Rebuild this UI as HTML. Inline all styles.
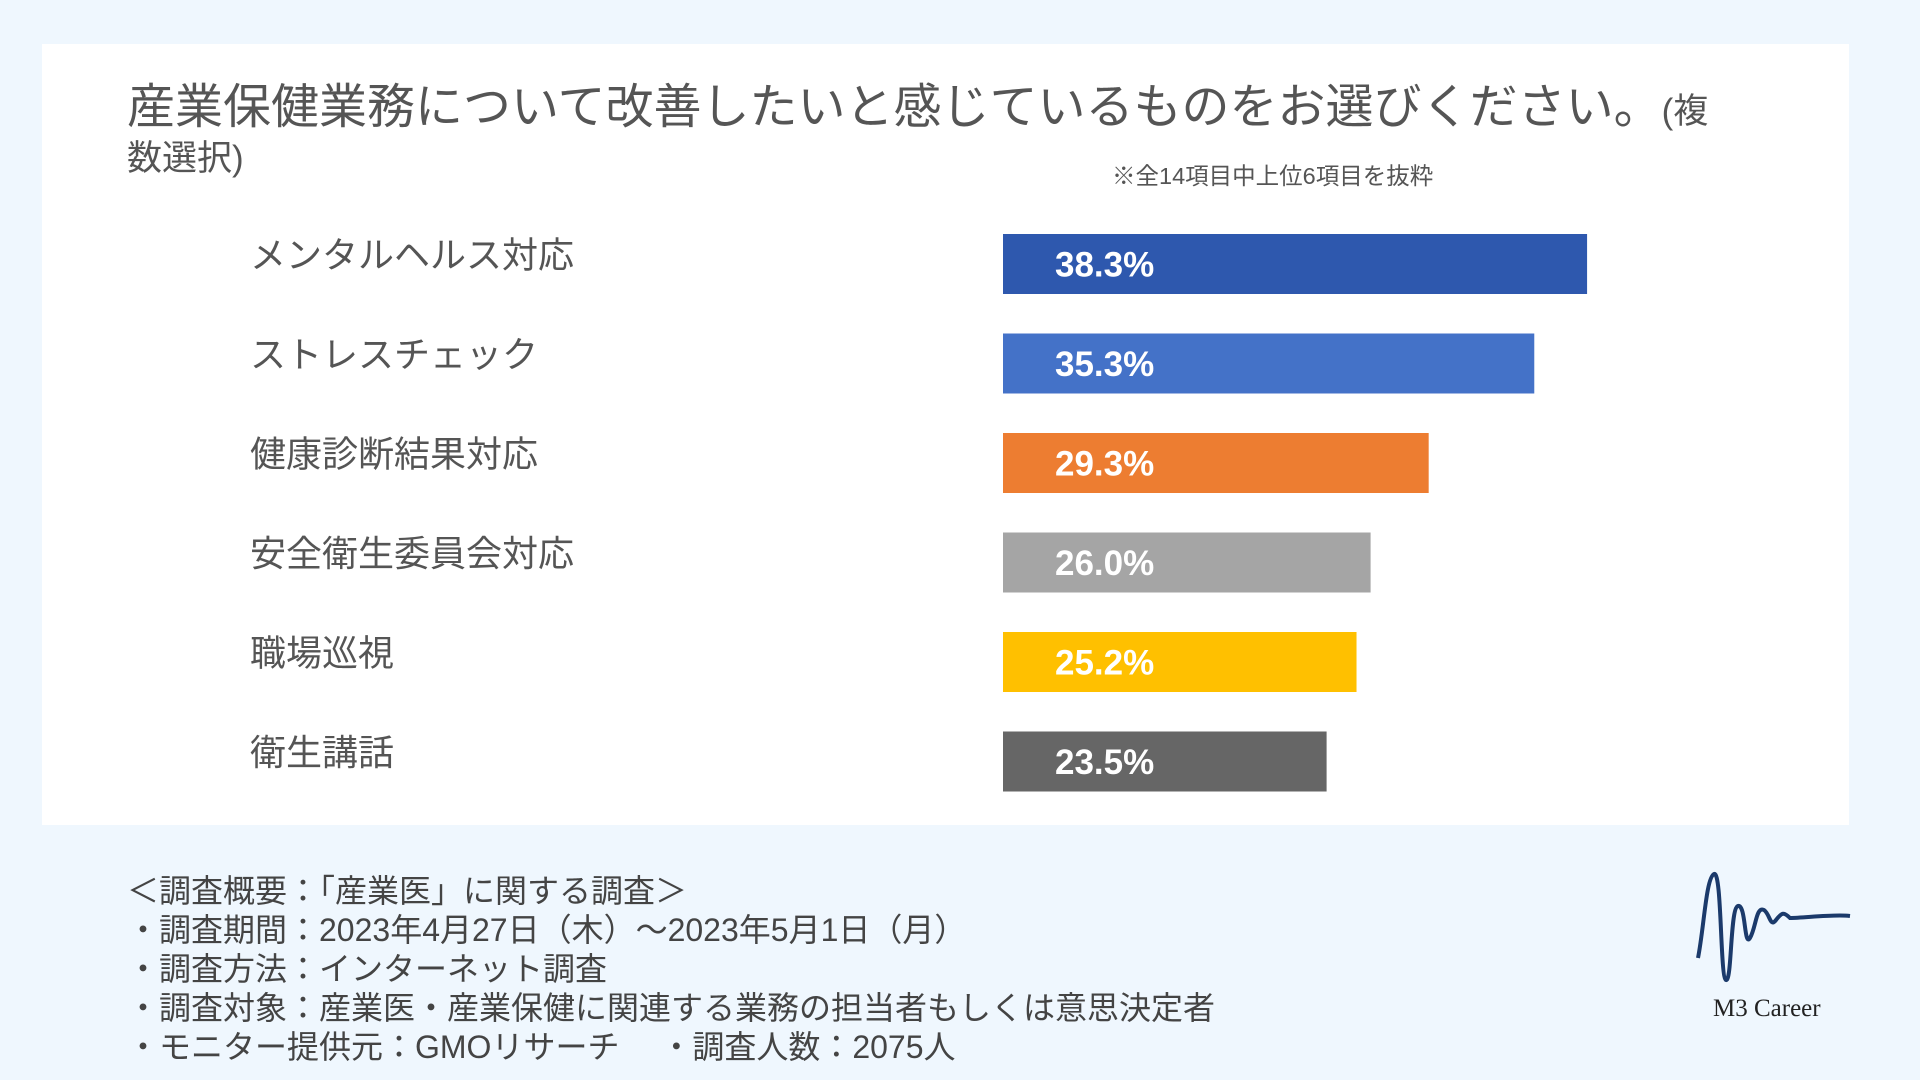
<!DOCTYPE html>
<html><head><meta charset="utf-8"><style>
body{margin:0;width:1920px;height:1080px;background:#eff7fe;position:relative;overflow:hidden;font-family:"Liberation Sans","Noto Sans CJK JP",sans-serif;color:#444}
.panel{position:absolute;left:42px;top:44px;width:1807px;height:781px;background:#fff}
.t{position:absolute;white-space:nowrap}
.foot div{position:absolute;left:127px;font-size:32px;color:#444;white-space:nowrap}
</style></head><body>
<div class="panel"></div>
<div class="t" style="left:127px;top:80px;font-size:48px;color:#555;line-height:56px">産業保健業務について改善したいと感じているものをお選びください。<span style="font-size:35px">(複</span></div>
<div class="t" style="left:127px;top:130px;font-size:35px;color:#555">数選択)</div>
<div class="t" style="left:1112px;top:157px;font-size:23.5px;color:#555">※全14項目中上位6項目を抜粋</div>
<svg id="chart" width="1920" height="1080" style="position:absolute;left:0;top:0"></svg>
<div class="foot">
<div style="top:866px">＜調査概要：「産業医」に関する調査＞</div>
<div style="top:905px">・調査期間：2023年4月27日（木）～2023年5月1日（月）</div>
<div style="top:944px">・調査方法：インターネット調査</div>
<div style="top:983px">・調査対象：産業医・産業保健に関連する業務の担当者もしくは意思決定者</div>
<div style="top:1022px">・モニター提供元：GMOリサーチ　 ・調査人数：2075人</div>
</div>
<svg width="160" height="130" style="position:absolute;left:1694px;top:868px">
<path d="M4 90 C10 60 12 10 20 6 C28 2 26 110 32 112 C38 114 36 40 44 38 C52 36 50 80 56 70 C62 60 62 38 70 42 C76 46 76 60 82 52 C88 44 90 44 96 50 C110 50 140 46 156 48" fill="none" stroke="#1b3a6b" stroke-width="4"/>
</svg>
<div class="t" style="left:1713px;top:995px;font-family:'Liberation Serif',serif;font-size:25px;color:#222">M3 Career</div>
<script>
const categories=["メンタルヘルス対応","ストレスチェック","健康診断結果対応","安全衛生委員会対応","職場巡視","衛生講話"];
const values=[38.3,35.3,29.3,26.0,25.2,23.5];
const valueLabels=["38.3%","35.3%","29.3%","26.0%","25.2%","23.5%"];
const colors=["#2e58ae","#4472c8","#ed7d31","#a5a5a5","#ffc000","#666666"];
const svg=document.getElementById('chart');
const NS='http://www.w3.org/2000/svg';
const x0=1003;
function xw(v){return Math.max(0,-90+17.6*v);}
function yc(i){return 264+i*99.5;}
categories.forEach((c,i)=>{
 const r=document.createElementNS(NS,'rect');
 r.setAttribute('x',x0);r.setAttribute('y',yc(i)-30);r.setAttribute('width',xw(values[i]));r.setAttribute('height',60);r.setAttribute('fill',colors[i]);
 
 
 svg.appendChild(r);
 const t=document.createElementNS(NS,'text');
 t.setAttribute('x',250);t.setAttribute('y',yc(i)-6);t.setAttribute('font-size','36');t.setAttribute('fill','#555');t.setAttribute('dominant-baseline','middle');
 t.textContent=c;
 
 
 svg.appendChild(t);
 const v=document.createElementNS(NS,'text');
 v.setAttribute('x',x0+52);v.setAttribute('y',yc(i)+3);v.setAttribute('font-size','35');v.setAttribute('font-weight','bold');v.setAttribute('fill','#fff');v.setAttribute('dominant-baseline','middle');
 v.textContent=valueLabels[i];
 
 
 svg.appendChild(v);
});
</script>
</body></html>
